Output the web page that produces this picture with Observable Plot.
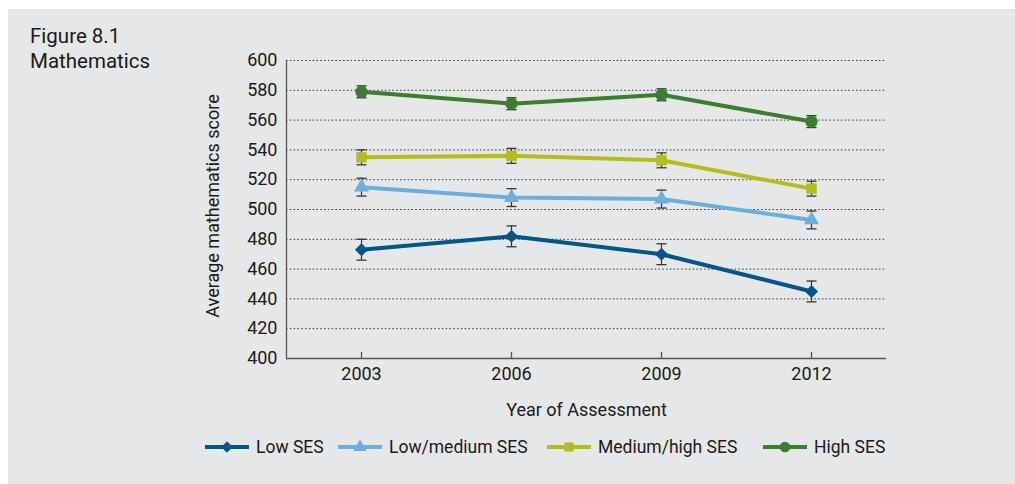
<!DOCTYPE html>
<html>
<head>
<meta charset="utf-8">
<script src="https://cdn.jsdelivr.net/npm/d3@7"></script>
<script src="https://cdn.jsdelivr.net/npm/@observablehq/plot@0.6"></script>
<style>
  html, body { margin: 0; padding: 0; background: #fff; }
  #wrap { position: relative; width: 1015px; height: 484px; overflow: hidden; font-family: Roboto, sans-serif; color: #1a1a1a; }
  #chart { position: absolute; left: 8px; top: 9px; }
  #title { position: absolute; left: 30px; top: 24px; font-size: 20.5px; line-height: 25px; color: #1a1a1a; }
  #legend { position: absolute; left: 0; top: 437px; width: 1015px; height: 20px; font-size: 17.5px; color: #1a1a1a; }
  .item { position: absolute; top: 0; height: 20px; display: flex; align-items: center; white-space: nowrap; }
  .item svg { display: block; margin-right: 7px; }
</style>
</head>
<body>
<div id="wrap">
  <div id="chart"></div>
  <div id="title">Figure 8.1<br>Mathematics</div>
  <div id="legend"></div>
</div>
<script>
const years = ["2003", "2006", "2009", "2012"];
const series = ["Low SES", "Low/medium SES", "Medium/high SES", "High SES"];
const lowSES = [473, 482, 470, 445];
const lowMediumSES = [515, 508, 507, 493];
const mediumHighSES = [535, 536, 533, 514];
const highSES = [579, 571, 577, 559];
const lowErr = [7, 7, 7, 7];
const lowMediumErr = [6, 6, 6, 6];
const mediumHighErr = [5, 5, 5, 5];
const highErr = [4, 4, 4, 4];
const yTicks = [400, 420, 440, 460, 480, 500, 520, 540, 560, 580, 600];
const colors = ["#00558c", "#6caee0", "#b4bd1c", "#3a7e2e"];
const symbols = ["diamond2", "triangle", "square", "circle"];
const symbolR = [5.9, 5.6, 5.9, 6.2];

const values = [lowSES, lowMediumSES, mediumHighSES, highSES];
const errs = [lowErr, lowMediumErr, mediumHighErr, highErr];
const table = series.flatMap((s, i) => years.map((yr, j) => ({series: s, year: yr, score: values[i][j], err: errs[i][j]})));

const capSymbol = {
  draw(context, size) {
    const r = Math.sqrt(size / Math.PI);
    context.moveTo(-r, 0);
    context.lineTo(r, 0);
  }
};

const chart = Plot.plot({
  width: 1007,
  height: 475,
  marginLeft: 278,
  marginRight: 129,
  marginTop: 51,
  marginBottom: 126,
  style: {background: "#e6e7e8", fontFamily: "Roboto, sans-serif", fontSize: "18px", color: "#1a1a1a", overflow: "visible"},
  x: {type: "point", domain: years, padding: 0.5},
  y: {domain: [400, 600]},
  color: {domain: series, range: colors},
  marks: [
    Plot.gridY({ticks: yTicks.filter(t => t > 400), stroke: "#333", strokeOpacity: 0.95, strokeWidth: 1, strokeDasharray: "1.6,2.2"}),
    Plot.axisY({ticks: yTicks, tickSize: 0, tickPadding: 9, fontSize: 18, label: null}),
    Plot.axisX({tickSize: 0, tickPadding: 9, fontSize: 18, label: null}),
    Plot.frame({anchor: "left", stroke: "#555", strokeWidth: 1.3}),
    Plot.ruleY([400], {stroke: "#555", strokeWidth: 1.3}),
    Plot.ruleX(years, {x: d => d, insetTop: 292, stroke: "#555", strokeWidth: 1.3}),
    Plot.line(table, {x: "year", y: "score", z: "series", stroke: "series", strokeWidth: 4, strokeLinejoin: "round"}),
    Plot.ruleX(table, {x: "year", y1: d => d.score - d.err, y2: d => d.score + d.err, stroke: "#333", strokeWidth: 1.2}),
    Plot.dot(table, {x: "year", y: d => d.score - d.err, symbol: capSymbol, r: 5, fill: "none", stroke: "#333", strokeWidth: 1.3}),
    Plot.dot(table, {x: "year", y: d => d.score + d.err, symbol: capSymbol, r: 5, fill: "none", stroke: "#333", strokeWidth: 1.3}),
    ...series.map((s, i) => Plot.dot(table, {filter: d => d.series === s, x: "year", y: "score", symbol: symbols[i], r: symbolR[i], fill: "series", stroke: "none"})),
    Plot.text(["Year of Assessment"], {frameAnchor: "bottom", textAnchor: "middle", dy: 57.5, fontSize: 18, fill: "#1a1a1a"}),
    Plot.text(["Average mathematics score"], {frameAnchor: "left", textAnchor: "middle", rotate: -90, dx: -73.5, dy: -3.5, fontSize: 18, fill: "#1a1a1a"})
  ]
});
document.getElementById("chart").appendChild(chart);

// legend (item left edges laid out to match the reference)
const legend = document.getElementById("legend");
const legendLeft = [205, 338, 547, 763];
const legendSymbolR = [5.2, 5.0, 5.2, 5.3];
const d3Sym = {diamond2: d3.symbolDiamond2, triangle: d3.symbolTriangle, square: d3.symbolSquare, circle: d3.symbolCircle};
series.forEach((s, i) => {
  const item = document.createElement("div");
  item.className = "item";
  item.style.left = legendLeft[i] + "px";
  const path = d3.symbol(d3Sym[symbols[i]], Math.PI * legendSymbolR[i] ** 2)();
  item.innerHTML = `<svg width="44" height="20" viewBox="0 0 44 20"><line x1="0" x2="44" y1="10" y2="10" stroke="${colors[i]}" stroke-width="4"/><path transform="translate(22,10)" d="${path}" fill="${colors[i]}"/></svg><span>${s}</span>`;
  legend.appendChild(item);
});
</script>
</body>
</html>
